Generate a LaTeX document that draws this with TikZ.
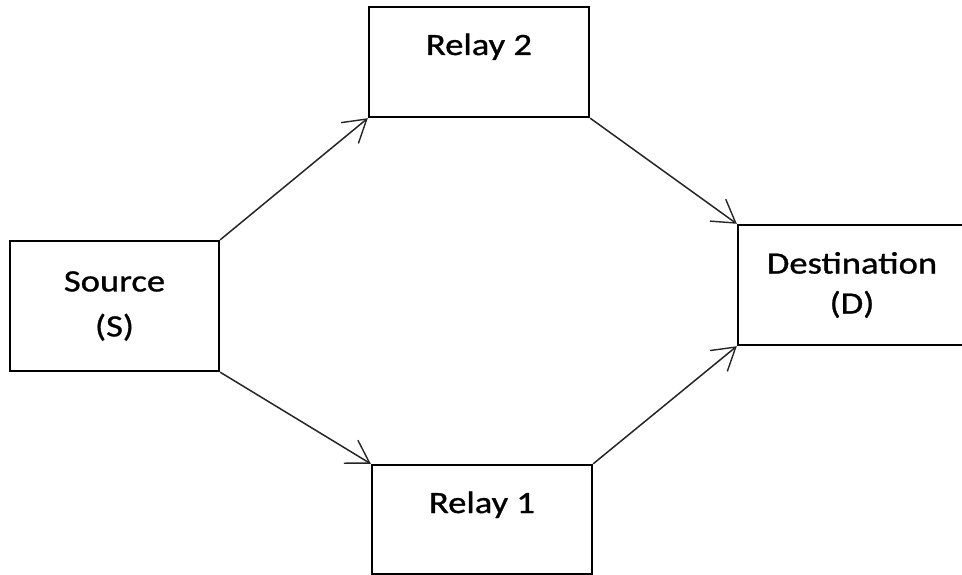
\documentclass[tikz,border=0pt]{standalone}
\usepackage{fontspec}
\setmainfont{Carlito}[FakeStretch=1.18,FakeBold=1]
\usetikzlibrary{arrows.meta}
\begin{document}
\begin{tikzpicture}[x=1pt,y=-1pt,
  box/.style={draw=black, line width=2.4pt, fill=white, inner sep=0pt,
    font=\fontsize{31}{40}\selectfont, align=center},
  onebox/.style={box, text height=48pt, text depth=62pt},
  link/.style={draw=black!85, line width=1.5pt,
    -{Straight Barb[length=22pt,width=27pt,line width=1.4pt]}}]
\useasboundingbox (0,0) rectangle (962,575);
\fill[white] (0,0) rectangle (962,575);
\node[box, minimum width=209pt, minimum height=130pt] (S) at (114.5,306) {Source\\[5pt](S)};
\node[onebox, minimum width=220pt] (R2) at (479,62) {Relay 2};
\node[onebox, minimum width=220pt, text depth=61pt] (R1) at (482,519.5) {Relay 1};
\node[box, minimum width=228pt, minimum height=120pt] (D) at (852,285) {Destination\\(D)};
\draw[link] (S.north east) -- (R2.south west);
\draw[link] (S.south east) -- (R1.north west);
\draw[link] (R2.south east) -- (D.north west);
\draw[link] (R1.north east) -- (D.south west);
\end{tikzpicture}
\end{document}
